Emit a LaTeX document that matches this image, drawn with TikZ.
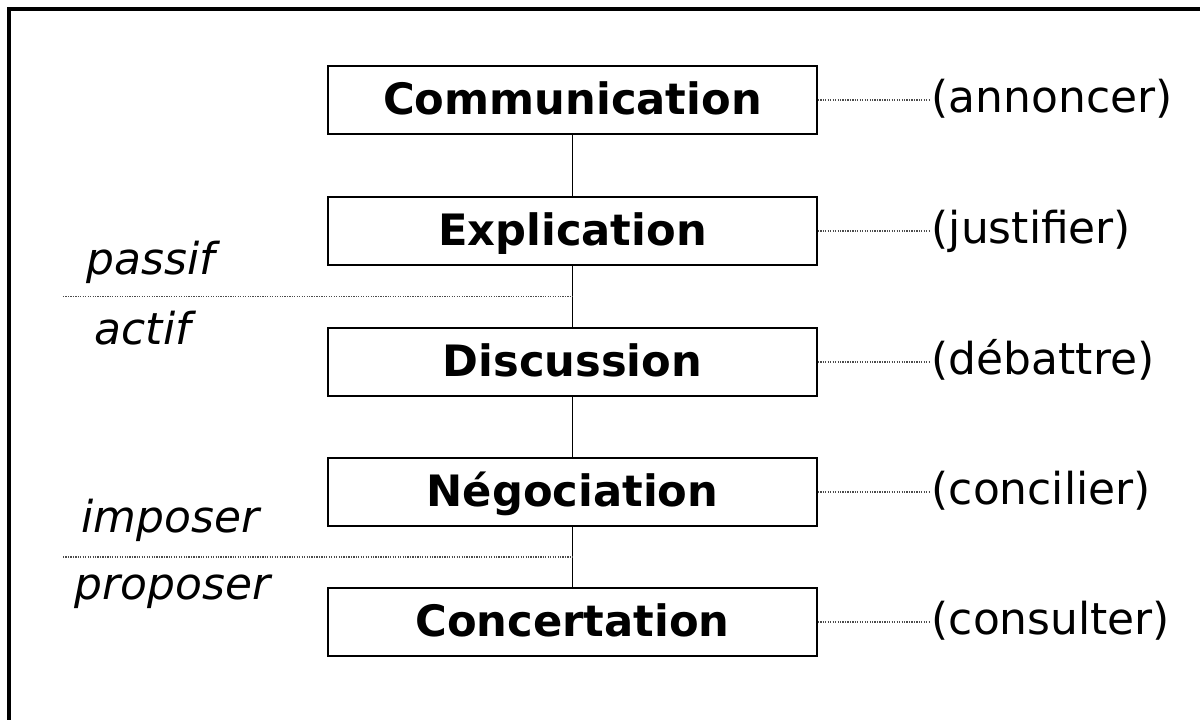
\documentclass[tikz,border=0pt]{standalone}
\usepackage{fontspec}
\setmainfont{DejaVu Sans}
\usetikzlibrary{calc}

\tikzset{
    etape/.style={draw,line width=0.5pt,minimum width=4.89cm,minimum height=0.68cm,inner sep=0pt,text height=0.82em,text depth=0pt,font=\bfseries\fontsize{12.3}{15}\selectfont},
    verbe/.style={anchor=base west,inner sep=0pt,font=\fontsize{12.5}{15}\selectfont},
    niveau/.style={anchor=base west,inner sep=0pt,font=\itshape\fontsize{12.5}{15}\selectfont},
    pointille/.style={black!70,line width=0.4pt,dash pattern=on 0.35pt off 0.35pt}
}

\begin{document}
\begin{tikzpicture}
    \useasboundingbox (0,0) rectangle (12,-7.2);
    \draw[line width=0.9pt] (0.09,-7.4) -- (0.09,-0.09) -- (12.2,-0.09);
    
    \node[etape] (comm) at (5.725,-1.0) {Communication};
    \node[etape] (expl) at (5.725,-2.31) {Explication};
    \node[etape] (disc) at (5.725,-3.62) {Discussion};
    \node[etape] (nego) at (5.725,-4.92) {Négociation};
    \node[etape] (conc) at (5.725,-6.22) {Concertation};
    \draw[line width=0.5pt] (comm) -- (expl);
    \draw[line width=0.5pt] (expl) -- (disc);
    \draw[line width=0.5pt] (disc) -- (nego);
    \draw[line width=0.5pt] (nego) -- (conc);
    
    \node[verbe] (annoncer) at (9.31,-1.13) {(annoncer)};
    \node[verbe] (justifier) at (9.31,-2.44) {(justifier)};
    \node[verbe] (debattre) at (9.31,-3.75) {(débattre)};
    \node[verbe] (concilier) at (9.31,-5.05) {(concilier)};
    \node[verbe] (consulter) at (9.31,-6.35) {(consulter)};
    \draw[pointille] (comm.east) -- (comm.east -| annoncer.west);
    \draw[pointille] (expl.east) -- (expl.east -| justifier.west);
    \draw[pointille] (disc.east) -- (disc.east -| debattre.west);
    \draw[pointille] (nego.east) -- (nego.east -| concilier.west);
    \draw[pointille] (conc.east) -- (conc.east -| consulter.west);
    
    % seuils
    \coordinate (seuilA) at ($(expl.south)!0.5!(disc.north)$);
    \coordinate (seuilB) at ($(nego.south)!0.5!(conc.north)$);
    \coordinate (bordA) at (0.63,0 |- seuilA);
    \coordinate (bordB) at (0.63,0 |- seuilB);
    \draw[pointille] (bordA) -- (seuilA);
    \draw[pointille] (bordB) -- (seuilB);
    \node[niveau] (passif) at (0.86,-2.75) {passif};
    \node[niveau] (actif) at (0.94,-3.45) {actif};
    \node[niveau] (imposer) at (0.81,-5.33) {imposer};
    \node[niveau] (proposer) at (0.74,-6.0) {proposer};
    
    \end{tikzpicture}
\end{document}
